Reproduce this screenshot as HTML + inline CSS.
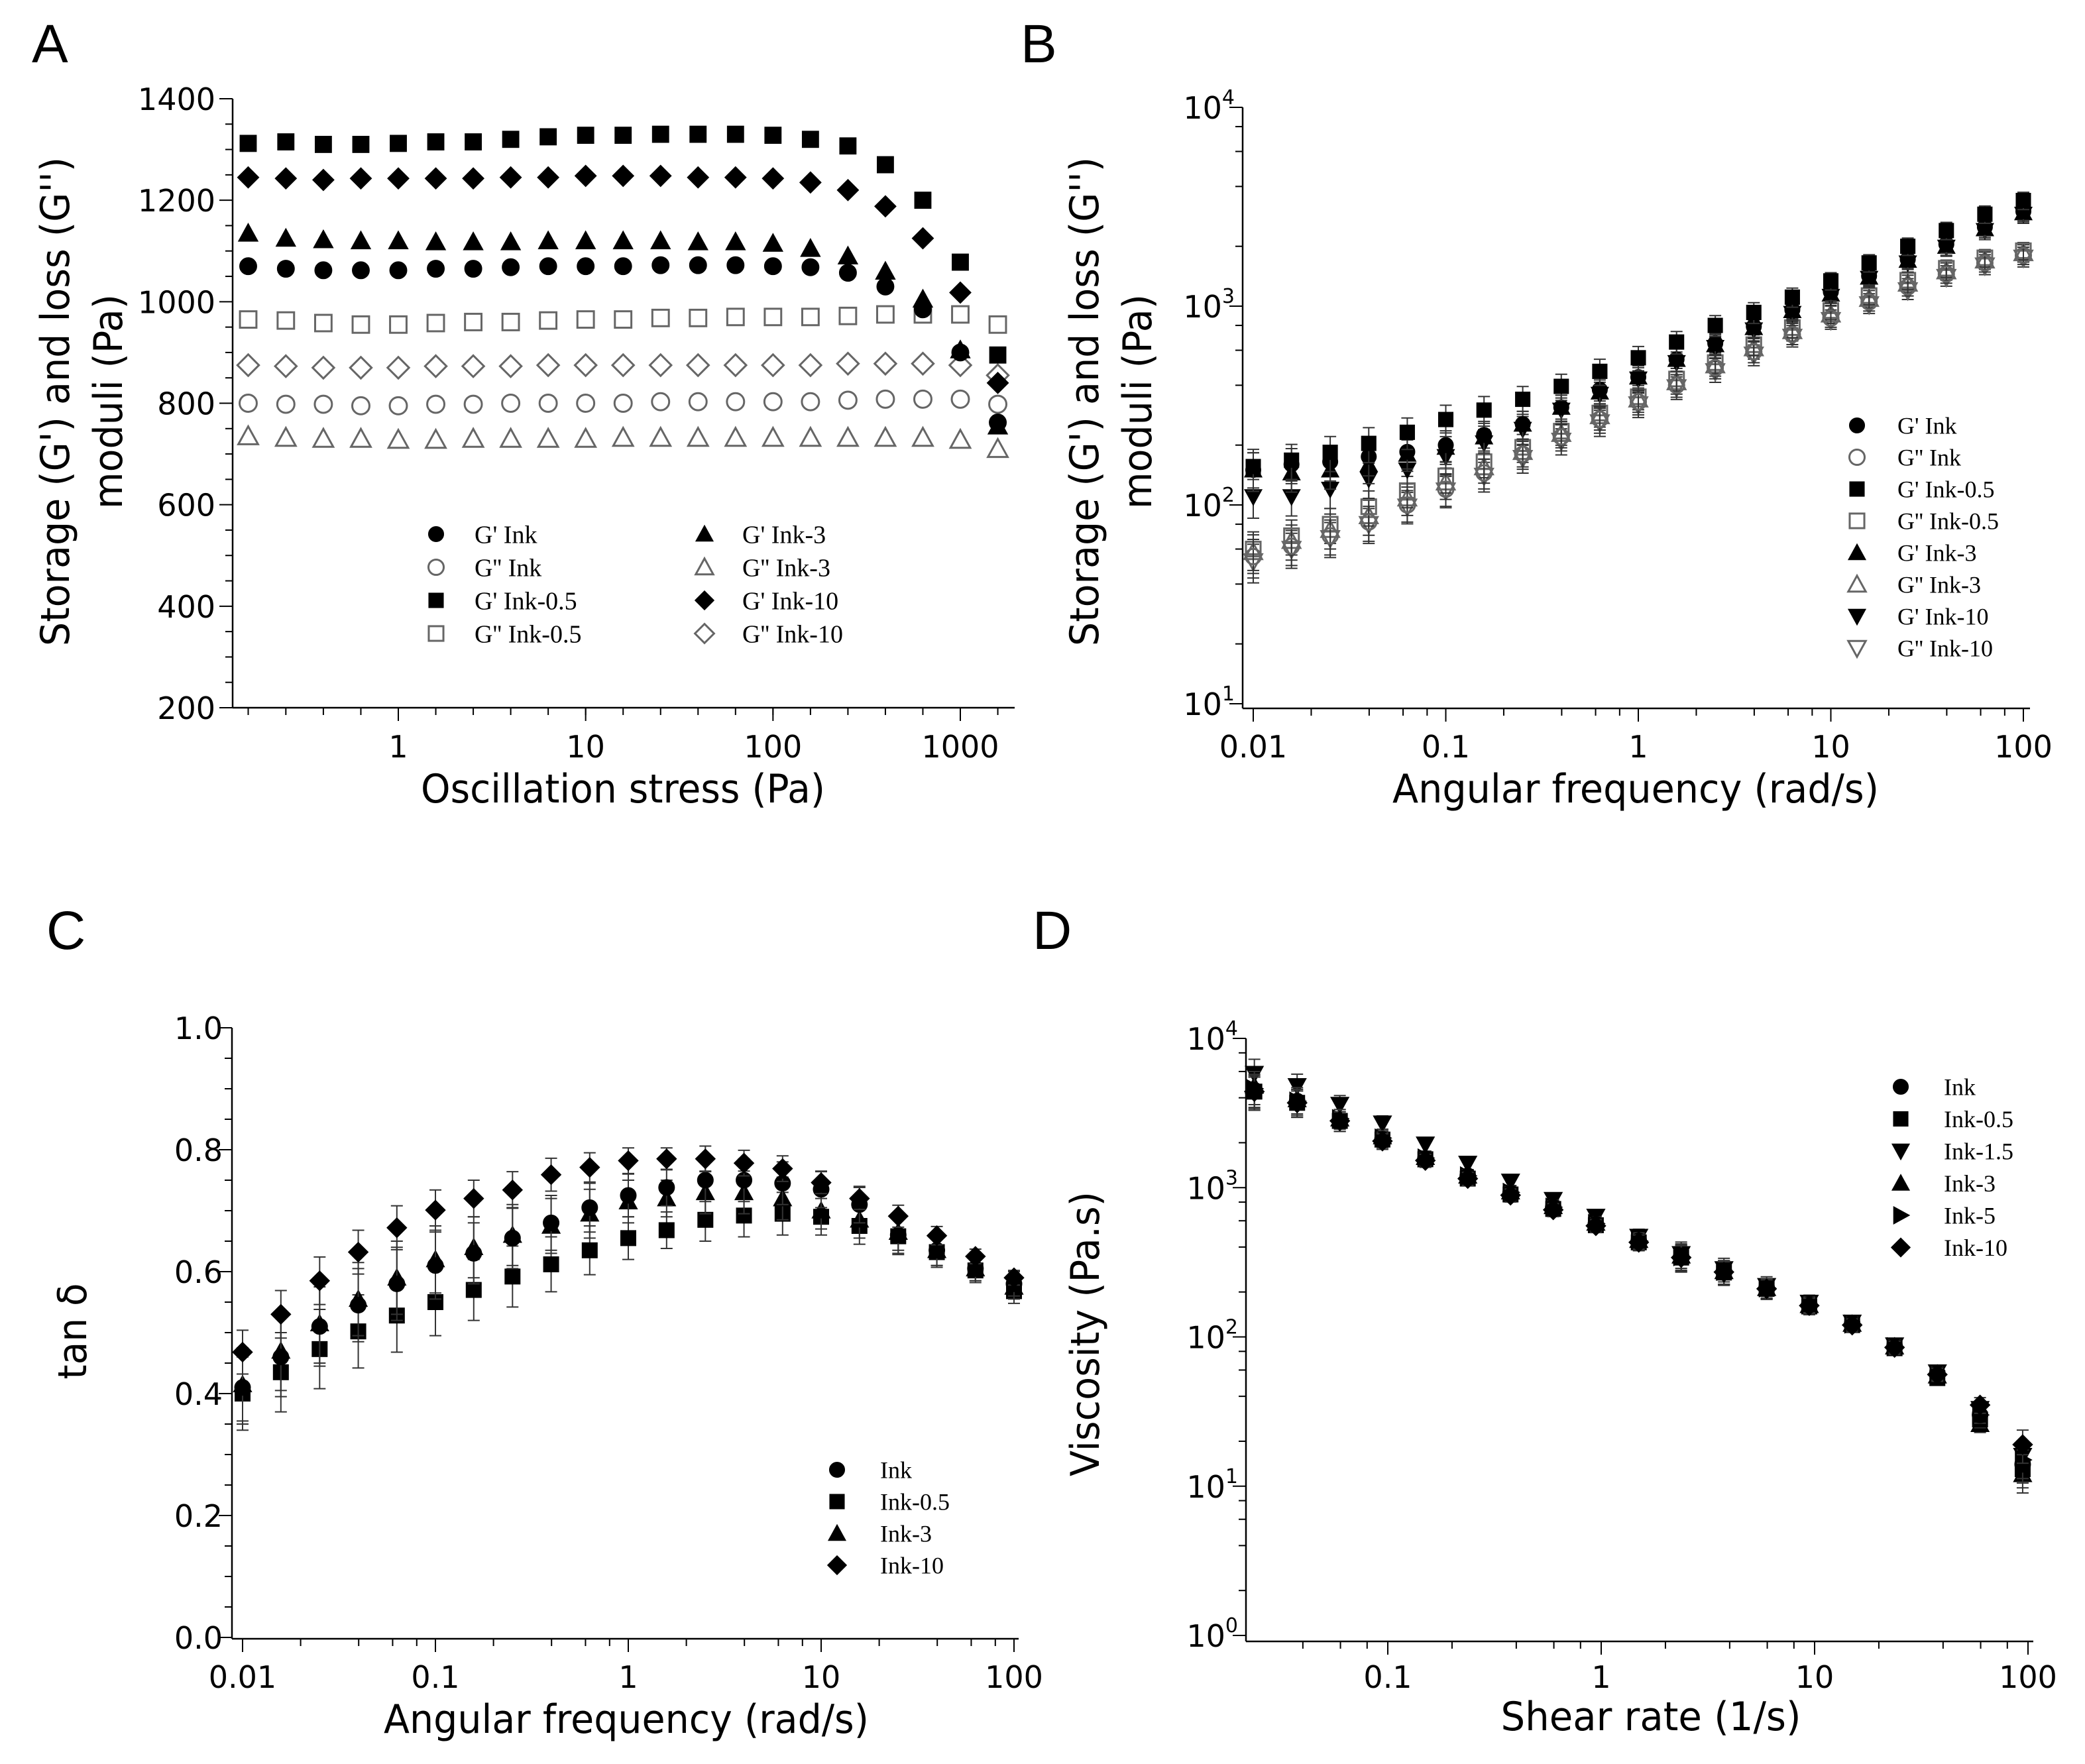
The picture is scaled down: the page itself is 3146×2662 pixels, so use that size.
<!DOCTYPE html>
<html><head><meta charset="utf-8"><style>
html,body{margin:0;padding:0;background:#fff}
svg{display:block}
</style></head><body>
<svg id="fig" width="3146" height="2662" viewBox="0 0 3146 2662" xmlns="http://www.w3.org/2000/svg">
<rect width="3146" height="2662" fill="#fff"/>
</svg>
<script>
// ---------- Panel A data ----------
const stressA = [0.158,0.251,0.398,0.631,1,1.585,2.512,3.981,6.31,10,15.85,25.12,39.81,63.1,100,158.5,251.2,398.1,631,1000,1585];
const gpInkA   = [1070,1065,1062,1062,1062,1065,1065,1068,1070,1070,1070,1072,1072,1072,1070,1068,1057,1030,985,900,762];
const gppInkA  = [800,798,798,795,795,798,798,800,800,800,800,803,803,803,803,803,806,808,808,808,798];
const gpInk05A = [1312,1315,1310,1310,1312,1315,1315,1320,1325,1328,1328,1330,1330,1330,1328,1320,1307,1270,1200,1078,895];
const gppInk05A= [965,963,958,955,955,958,960,960,963,965,965,968,968,970,970,970,972,975,975,975,955];
const gpInk3A  = [1135,1125,1122,1120,1120,1118,1118,1118,1120,1120,1120,1120,1118,1118,1115,1105,1090,1060,1005,905,755];
const gppInk3A = [735,732,730,730,728,728,730,730,730,730,732,732,732,732,732,732,732,732,732,728,710];
const gpInk10A = [1245,1243,1240,1243,1243,1243,1243,1245,1245,1248,1248,1248,1245,1245,1243,1235,1220,1188,1125,1018,840];
const gppInk10A= [875,873,870,870,870,873,873,873,875,875,875,875,875,875,875,875,878,878,878,875,855];
const yTicksA = [200,400,600,800,1000,1200,1400];
const xTicksA = [1,10,100,1000];
// ---------- Panel B data ----------
const freqB = [0.01,0.0158,0.0251,0.0398,0.0631,0.1,0.158,0.251,0.398,0.631,1,1.58,2.51,3.98,6.31,10,15.8,25.1,39.8,63.1,100];
const gpInkB   = [150,160,165,175,185,200,225,255,310,380,440,540,650,790,960,1180,1420,1720,2050,2500,3000];
const gppInkB  = [55,62,70,82,100,120,145,180,220,270,330,400,490,590,720,870,1050,1250,1450,1650,1800];
const gpInk05B = [156,168,184,204,232,269,300,340,395,470,550,660,800,930,1110,1340,1650,2000,2400,2900,3400];
const gppInk05B= [60,70,80,98,118,140,165,195,235,290,350,430,520,640,780,950,1130,1350,1550,1750,1900];
const gpInk3B  = [150,145,150,160,180,195,220,255,310,370,440,540,640,780,950,1150,1400,1700,2000,2450,2950];
const gppInk3B = [58,66,75,88,108,130,155,185,228,280,340,415,505,615,750,910,1090,1300,1500,1700,1850];
const gpInk10B = [110,110,120,135,150,175,205,240,300,360,430,520,620,760,920,1120,1380,1650,1980,2400,2900];
const gppInk10B= [52,60,68,80,98,118,140,172,210,260,320,390,470,570,700,850,1020,1200,1400,1600,1750];
const relErrB = [0.22,0.2,0.2,0.2,0.18,0.18,0.17,0.16,0.15,0.15,0.14,0.13,0.12,0.12,0.11,0.1,0.1,0.1,0.1,0.1,0.1];
const xTicksB = [0.01,0.1,1,10,100];
const xTickLabelsB = ["0.01","0.1","1","10","100"];
const yExpB = [1,2,3,4];
// ---------- Panel C data ----------
const freqC = [0.01,0.0158,0.0251,0.0398,0.0631,0.1,0.158,0.251,0.398,0.631,1,1.58,2.51,3.98,6.31,10,15.8,25.1,39.8,63.1,100];
const tanInkC   = [0.41,0.46,0.51,0.545,0.58,0.61,0.63,0.655,0.68,0.705,0.725,0.738,0.75,0.75,0.745,0.735,0.71,0.66,0.635,0.605,0.58];
const tanInk05C = [0.40,0.435,0.473,0.502,0.528,0.55,0.57,0.592,0.612,0.635,0.655,0.668,0.685,0.692,0.695,0.69,0.675,0.658,0.632,0.602,0.568];
const tanInk3C  = [0.415,0.47,0.515,0.555,0.59,0.62,0.64,0.66,0.675,0.695,0.715,0.72,0.73,0.73,0.72,0.70,0.685,0.665,0.635,0.605,0.575];
const tanInk10C = [0.468,0.530,0.585,0.632,0.672,0.701,0.720,0.734,0.759,0.771,0.782,0.785,0.785,0.778,0.769,0.746,0.720,0.691,0.659,0.625,0.590];
const errC = [0.06,0.065,0.065,0.06,0.06,0.055,0.05,0.05,0.045,0.04,0.035,0.03,0.035,0.035,0.035,0.03,0.03,0.03,0.025,0.02,0.02];
const yTicksC = [0,0.2,0.4,0.6,0.8,1.0];
const yTickLabelsC = ["0.0","0.2","0.4","0.6","0.8","1.0"];
// ---------- Panel D data ----------
const shearD = [0.0237,0.0376,0.0596,0.0944,0.150,0.237,0.376,0.596,0.944,1.50,2.37,3.76,5.96,9.44,15.0,23.7,37.6,59.6,94.4];
const viscInkD   = [4500,3800,2800,2100,1560,1200,920,740,570,440,345,275,214,165,123,87,57,30,14];
const viscInk05D = [4400,3700,2800,2100,1550,1150,900,720,560,430,340,270,210,160,120,84,53,28,13];
const viscInk15D = [5800,4800,3600,2700,1950,1450,1100,830,640,470,360,285,220,170,125,88,58,33,16];
const viscInk3D  = [4800,3900,2900,2200,1600,1200,940,750,580,445,350,275,212,163,122,86,55,26,12];
const viscInk5D  = [4600,3800,2900,2150,1580,1200,930,740,575,440,345,275,213,164,122,86,56,30,15];
const viscInk10D = [4400,3700,2800,2050,1520,1150,890,710,555,430,340,272,210,162,120,85,56,35,19];
const relErrD = [0.25,0.2,0.15,0.12,0.1,0.1,0.1,0.1,0.1,0.12,0.2,0.18,0.15,0.12,0.1,0.1,0.1,0.12,0.25];
const xTicksD = [0.1,1,10,100];
const xTickLabelsD = ["0.1","1","10","100"];
const yExpD = [0,1,2,3,4];

const NS = "http://www.w3.org/2000/svg";
const svg = document.getElementById('fig');
function el(tag, attrs, parent){const e=document.createElementNS(NS,tag);for(const k in attrs)e.setAttribute(k,attrs[k]);(parent||svg).appendChild(e);return e;}
function lin(d0,p0,d1,p1){return v=>p0+(v-d0)/(d1-d0)*(p1-p0);}
function lg(d0,p0,d1,p1){const a=Math.log10(d0),b=Math.log10(d1);return v=>p0+(Math.log10(v)-a)/(b-a)*(p1-p0);}
const SANS='"DejaVu Sans","Liberation Sans",sans-serif';
const SERIF='"Liberation Serif",serif';

function marker(g, shape, filled, cx, cy, s){
  const fill = filled ? '#000' : 'none';
  const stroke = filled ? '#000' : '#666';
  const sw = filled ? 1 : 3;
  let m;
  if(shape==='circle') m=el('circle',{cx:cx,cy:cy,r:s*0.48,fill:fill,stroke:stroke,'stroke-width':sw},g);
  else if(shape==='square') m=el('rect',{x:cx-s*0.46,y:cy-s*0.46,width:s*0.92,height:s*0.92,fill:fill,stroke:stroke,'stroke-width':sw},g);
  else if(shape==='up') m=el('polygon',{points:`${cx},${cy-s*0.55} ${cx+s*0.55},${cy+s*0.45} ${cx-s*0.55},${cy+s*0.45}`,fill:fill,stroke:stroke,'stroke-width':sw},g);
  else if(shape==='down') m=el('polygon',{points:`${cx},${cy+s*0.55} ${cx+s*0.55},${cy-s*0.45} ${cx-s*0.55},${cy-s*0.45}`,fill:fill,stroke:stroke,'stroke-width':sw},g);
  else if(shape==='right') m=el('polygon',{points:`${cx+s*0.55},${cy} ${cx-s*0.45},${cy-s*0.55} ${cx-s*0.45},${cy+s*0.55}`,fill:fill,stroke:stroke,'stroke-width':sw},g);
  else m=el('polygon',{points:`${cx},${cy-s*0.6} ${cx+s*0.6},${cy} ${cx},${cy+s*0.6} ${cx-s*0.6},${cy}`,fill:fill,stroke:stroke,'stroke-width':sw},g);
  return m;
}
function text(str,attrs,parent){const t=el('text',attrs,parent);t.textContent=str;return t;}
function letter(ch,x,y,name){const t=text(ch,{x:x,y:y,'font-family':'"Liberation Sans",sans-serif','font-size':82,fill:'#000'});}

function axesFrame(name,L,R,B,T){
  const g=el('g',{});
  
  
  el('line',{x1:L,y1:T,x2:L,y2:B,stroke:'#000','stroke-width':2.5},g);
  el('line',{x1:L,y1:B,x2:R,y2:B,stroke:'#000','stroke-width':2.5},g);
  return g;
}
function xTick(g,x,B,len){el('line',{x1:x,y1:B,x2:x,y2:B+len,stroke:'#000','stroke-width':2},g);}
function yTick(g,y,L,len){el('line',{x1:L-len,y1:y,x2:L,y2:y,stroke:'#000','stroke-width':2},g);}
function logMinorX(g,sx,d0,d1,B,L,R){for(let e=Math.floor(Math.log10(d0));e<=Math.ceil(Math.log10(d1));e++){for(const m of [2,4,6,8]){const v=m*Math.pow(10,e);const x=sx(v);if(x>L&&x<R)xTick(g,x,B,11);}}}
function logMinorY(g,sy,e0,e1,L){for(let e=e0;e<e1;e++){for(const m of [2,4,6,8]){yTick(g,sy(m*Math.pow(10,e)),L,11);}}}
function supLabel(g,e,x,y){const t=el('text',{x:x,y:y,'font-family':SANS,'font-size':46,'text-anchor':'end',fill:'#000'},g);const a=el('tspan',{},t);a.textContent='10';const b=el('tspan',{dy:-22,'font-size':30},t);b.textContent=String(e);}

function errBar(g,x,y1,y2){el('line',{x1:x,y1:y1,x2:x,y2:y2,stroke:'#333','stroke-width':2},g);el('line',{x1:x-9,y1:y1,x2:x+9,y2:y1,stroke:'#333','stroke-width':2},g);el('line',{x1:x-9,y1:y2,x2:x+9,y2:y2,stroke:'#333','stroke-width':2},g);}

function series(name,xs,ys,sx,sy,shape,filled,size,errFn){
  const g=el('g',{});
  
  
  xs.forEach((xv,i)=>{
    const cx=sx(xv), cy=sy(ys[i]);
    if(errFn){const [lo,hi]=errFn(ys[i],i);errBar(g,cx,sy(hi),sy(lo));}
    const m=marker(g,shape,filled,cx,cy,size);
    
    
  });
}
function legend(name,entries,sx,tx,y0,dy,size,fs){
  const g=el('g',{});
  
  
  entries.forEach((en,i)=>{
    const y=y0+i*dy;
    const m=marker(g,en[1],en[2],sx,y,size);
    
    
    const t=text(en[0],{x:tx,y:y+fs*0.35,'font-family':SERIF,'font-size':fs,fill:'#000'},g);
    
    
  });
}
function title(str,x,y,len,fs,rot,name){
  const a={x:x,y:y,'font-family':SANS,'font-size':fs,'text-anchor':'middle',fill:'#000',textLength:len,lengthAdjust:'spacingAndGlyphs'};
  if(rot)a.transform=`rotate(-90 ${x} ${y})`;
  const t=text(str,a);
}

// ================= Panel A =================
(function(){
  const L=351,R=1531,B=1068,T=149;
  const sx=lg(1,601,1000,1449), sy=lin(200,1068,1400,149);
  letter('A',48,94,'panel-a-label');
  const g=axesFrame('panel-a',L,R,B,T);
  yTicksA.forEach(v=>{yTick(g,sy(v),L,20);const t=text(String(v),{x:L-26,y:sy(v)+17,'font-family':SANS,'font-size':46,'text-anchor':'end',fill:'#000'},g);});
  for(let v=250;v<1400;v+=50){if(v%200!==0)yTick(g,sy(v),L,11);}
  stressA.forEach(v=>xTick(g,sx(v),B,11));
  xTicksA.forEach(v=>{xTick(g,sx(v),B,20);const t=text(String(v),{x:sx(v),y:1143,'font-family':SANS,'font-size':46,'text-anchor':'middle',fill:'#000'},g);});
  title('Oscillation stress (Pa)',940,1211,610,60,false,'x-axis-title-a');
  title("Storage (G') and loss (G'')",104,606,738,60,true,'y-axis-title-a');
  title('moduli (Pa)',184,606,324,60,true,'y-axis-title-a-line2');
  const S=27;
  series('g2-ink-3',stressA,gppInk3A,sx,sy,'up',false,S);
  series('g2-ink',stressA,gppInkA,sx,sy,'circle',false,S);
  series('g2-ink-10',stressA,gppInk10A,sx,sy,'diamond',false,S);
  series('g2-ink-0-5',stressA,gppInk05A,sx,sy,'square',false,S);
  series('g1-ink',stressA,gpInkA,sx,sy,'circle',true,S);
  series('g1-ink-3',stressA,gpInk3A,sx,sy,'up',true,S);
  series('g1-ink-10',stressA,gpInk10A,sx,sy,'diamond',true,S);
  series('g1-ink-0-5',stressA,gpInk05A,sx,sy,'square',true,S);
  legend('legend-a-col1',[["G' Ink",'circle',true],["G'' Ink",'circle',false],["G' Ink-0.5",'square',true],["G'' Ink-0.5",'square',false]],658,716,806,50,24,38);
  legend('legend-a-col2',[["G' Ink-3",'up',true],["G'' Ink-3",'up',false],["G' Ink-10",'diamond',true],["G'' Ink-10",'diamond',false]],1063,1120,806,50,24,38);
})();

// ================= Panel B =================
(function(){
  const L=1875,R=3063,B=1069,T=162;
  const sx=lg(0.01,1891,100,3053), sy=lg(10,1062,10000,162);
  letter('B',1540,94,'panel-b-label');
  const g=axesFrame('panel-b',L,R,B,T);
  yExpB.forEach(e=>{const y=sy(Math.pow(10,e));yTick(g,y,L,20);supLabel(g,e,L-12,y+17);});
  logMinorY(g,sy,1,4,L);
  logMinorX(g,sx,0.01,100,B,L,R);
  xTicksB.forEach((v,i)=>{xTick(g,sx(v),B,20);const t=text(xTickLabelsB[i],{x:sx(v),y:1143,'font-family':SANS,'font-size':46,'text-anchor':'middle',fill:'#000'},g);});
  title('Angular frequency (rad/s)',2468,1211,734,60,false,'x-axis-title-b');
  title("Storage (G') and loss (G'')",1657,606,738,60,true,'y-axis-title-b');
  title('moduli (Pa)',1737,606,324,60,true,'y-axis-title-b-line2');
  const S=24;
  const ef=(v,i)=>[v*(1-relErrB[i]),v*(1+relErrB[i])];
  series('g2-ink-10',freqB,gppInk10B,sx,sy,'down',false,S,ef);
  series('g2-ink-3',freqB,gppInk3B,sx,sy,'up',false,S,ef);
  series('g2-ink-0-5',freqB,gppInk05B,sx,sy,'square',false,S,ef);
  series('g2-ink',freqB,gppInkB,sx,sy,'circle',false,S,ef);
  series('g1-ink-10',freqB,gpInk10B,sx,sy,'down',true,S,ef);
  series('g1-ink-3',freqB,gpInk3B,sx,sy,'up',true,S,ef);
  series('g1-ink',freqB,gpInkB,sx,sy,'circle',true,S,ef);
  series('g1-ink-0-5',freqB,gpInk05B,sx,sy,'square',true,S,ef);
  legend('legend-b',[["G' Ink",'circle',true],["G'' Ink",'circle',false],["G' Ink-0.5",'square',true],["G'' Ink-0.5",'square',false],["G' Ink-3",'up',true],["G'' Ink-3",'up',false],["G' Ink-10",'down',true],["G'' Ink-10",'down',false]],2802,2863,642,48,24,36);
})();

// ================= Panel C =================
(function(){
  const L=350,R=1537,B=2473,T=1551;
  const sx=lg(0.01,366,100,1530), sy=lin(0,2471,1,1551);
  letter('C',70,1432,'panel-c-label');
  const g=axesFrame('panel-c',L,R,B,T);
  yTicksC.forEach((v,i)=>{yTick(g,sy(v),L,20);const t=text(yTickLabelsC[i],{x:L-14,y:sy(v)+17,'font-family':SANS,'font-size':46,'text-anchor':'end',fill:'#000'},g);});
  for(let k=1;k<20;k++){if(k%4!==0)yTick(g,sy(k*0.05),L,11);}
  logMinorX(g,sx,0.01,100,B,L,R);
  xTicksB.forEach((v,i)=>{xTick(g,sx(v),B,20);const t=text(xTickLabelsB[i],{x:sx(v),y:2547,'font-family':SANS,'font-size':46,'text-anchor':'middle',fill:'#000'},g);});
  title('Angular frequency (rad/s)',945,2615,732,60,false,'x-axis-title-c');
  title('tan δ',130,2009,145,60,true,'y-axis-title-c');
  const S=25;
  const ef=(v,i)=>[v-errC[i],v+errC[i]];
  series('tan-ink-0-5',freqC,tanInk05C,sx,sy,'square',true,S,ef);
  series('tan-ink-3',freqC,tanInk3C,sx,sy,'up',true,S,ef);
  series('tan-ink',freqC,tanInkC,sx,sy,'circle',true,S,ef);
  series('tan-ink-10',freqC,tanInk10C,sx,sy,'diamond',true,S,(v,i)=>[v-errC[i]*0.6,v+errC[i]*0.6]);
  legend('legend-c',[["Ink",'circle',true],["Ink-0.5",'square',true],["Ink-3",'up',true],["Ink-10",'diamond',true]],1263,1328,2218,48,24,36);
})();

// ================= Panel D =================
(function(){
  const L=1880,R=3068,B=2477,T=1567;
  const sx=lg(0.1,2094,100,3060), sy=lg(1,2468,10000,1567);
  letter('D',1558,1432,'panel-d-label');
  const g=axesFrame('panel-d',L,R,B,T);
  yExpD.forEach(e=>{const y=sy(Math.pow(10,e));yTick(g,y,L,20);supLabel(g,e,L-12,y+17);});
  logMinorY(g,sy,0,4,L);
  logMinorX(g,sx,0.02,100,B,L,R);
  xTicksD.forEach((v,i)=>{xTick(g,sx(v),B,20);const t=text(xTickLabelsD[i],{x:sx(v),y:2547,'font-family':SANS,'font-size':46,'text-anchor':'middle',fill:'#000'},g);});
  title('Shear rate (1/s)',2491,2611,453,60,false,'x-axis-title-d');
  title('Viscosity (Pa.s)',1658,2013,430,60,true,'y-axis-title-d');
  const S=25;
  const ef=(v,i)=>[v*(1-relErrD[i]),v*(1+relErrD[i])];
  series('visc-ink-1-5',shearD,viscInk15D,sx,sy,'down',true,S,ef);
  series('visc-ink-3',shearD,viscInk3D,sx,sy,'up',true,S,ef);
  series('visc-ink-5',shearD,viscInk5D,sx,sy,'right',true,S,ef);
  series('visc-ink-0-5',shearD,viscInk05D,sx,sy,'square',true,S,ef);
  series('visc-ink',shearD,viscInkD,sx,sy,'circle',true,S,ef);
  series('visc-ink-10',shearD,viscInk10D,sx,sy,'diamond',true,S,ef);
  legend('legend-d',[["Ink",'circle',true],["Ink-0.5",'square',true],["Ink-1.5",'down',true],["Ink-3",'up',true],["Ink-5",'right',true],["Ink-10",'diamond',true]],2868,2933,1640,48.5,24,36);
})();
</script>
</body></html>
